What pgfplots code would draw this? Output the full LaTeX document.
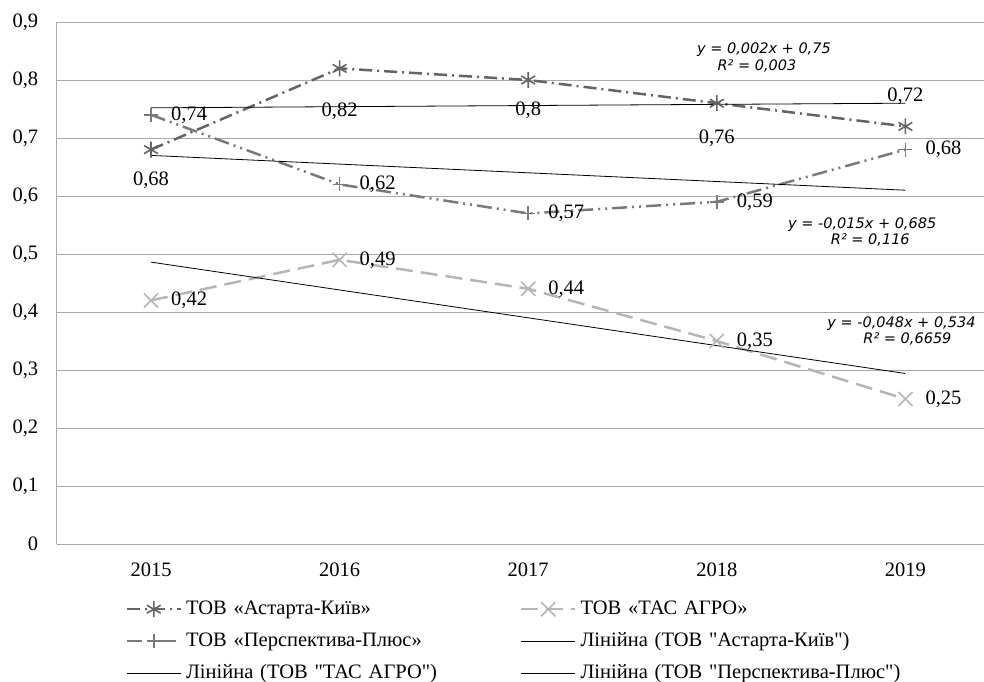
\documentclass[border=0pt]{standalone}
\usepackage{fontspec}
\setmainfont{Liberation Serif}[Ligatures=TeXOff]
\newfontfamily\eqfont{DejaVu Sans}[ItalicFont={DejaVu Sans Oblique}]
\usepackage{pgfplots}
\pgfplotsset{compat=1.18}
\definecolor{cA}{RGB}{100,100,100}
\definecolor{cP}{RGB}{122,122,122}
\definecolor{cT}{RGB}{182,182,182}
\definecolor{grd}{RGB}{170,170,170}
\newcommand{\mf}{\fontsize{20.5}{24}\selectfont}
\newcommand{\ef}{\eqfont\itshape\fontsize{14.5}{16}\selectfont}
\begin{document}
\begin{tikzpicture}
\useasboundingbox (0,0) rectangle (984pt,681pt);
\begin{axis}[
  at={(56.7pt,137pt)}, anchor=south west,
  scale only axis, width=943pt, height=522pt,
  xmin=-0.5, xmax=4.5, ymin=0, ymax=0.9,
  xtick={0,1,2,3,4}, xticklabels={2015,2016,2017,2018,2019},
  ytick={0,0.1,0.2,0.3,0.4,0.5,0.6,0.7,0.8,0.9},
  yticklabels={0,{0,1},{0,2},{0,3},{0,4},{0,5},{0,6},{0,7},{0,8},{0,9}},
  ticklabel style={font=\mf},
  yticklabel style={xshift=-15pt},
  xticklabel style={yshift=-15pt},
  major tick length=0pt,
  ymajorgrids, grid style={grd, line width=0.9pt},
  axis x line*=bottom, axis y line*=left,
  axis line style={grd, line width=0.9pt, -},
  legend columns=2, legend cell align=left,
  legend style={draw=none, fill=none, at={(0.0728,-0.1054)}, anchor=north west,
    inner sep=0pt, font=\mf, row sep=12pt,
    nodes={inner xsep=4pt, inner ysep=0pt, text height=15pt, text depth=5pt, text width=330pt},
    /tikz/every even column/.append style={column sep=0pt}},
  legend image code/.code={\draw[mark repeat=2,mark phase=2,#1] plot coordinates {(0pt,0pt) (27pt,0pt) (54pt,0pt)};},
]
% ТОВ «Астарта-Київ»
\addplot[color=cA, line width=2.5pt, dash pattern=on 13pt off 5pt on 2pt off 5pt,
  mark=asterisk, mark size=8pt, mark options={solid, line width=1.6pt},
  nodes near coords, point meta=explicit symbolic,
  visualization depends on={value \thisrow{dy} \as \dy},
  every node near coord/.append style={anchor=center, yshift=\dy*1pt, font=\mf, text=black}]
  table[x=x, y=y, meta=lab]{
x y lab dy
0 0.68 0,68 -31
1 0.82 0,82 -43
2 0.80 0,8 -30
3 0.76 0,76 -35
4 0.72 0,72 30
};
\addlegendentry{ТОВ «Астарта-Київ»}
% ТОВ «ТАС АГРО»
\addplot[color=cT, line width=2.5pt, dash pattern=on 17pt off 8pt,
  mark=x, mark size=10pt, mark options={solid, line width=1.6pt},
  nodes near coords, point meta=explicit symbolic,
  every node near coord/.append style={anchor=west, xshift=16pt, font=\mf, text=black}]
  table[x=x, y=y, meta=lab]{
x y lab
0 0.42 0,42
1 0.49 0,49
2 0.44 0,44
3 0.35 0,35
4 0.25 0,25
};
\addlegendentry{ТОВ «ТАС АГРО»}
% ТОВ «Перспектива-Плюс»
\addplot[color=cP, line width=2.5pt, dash pattern=on 15pt off 5pt on 2pt off 5pt on 2pt off 5pt,
  mark=+, mark size=7pt, mark options={solid, line width=1.6pt},
  nodes near coords, point meta=explicit symbolic,
  every node near coord/.append style={anchor=west, xshift=16pt, font=\mf, text=black}]
  table[x=x, y=y, meta=lab]{
x y lab
0 0.74 0,74
1 0.62 0,62
2 0.57 0,57
3 0.59 0,59
4 0.68 0,68
};
\addlegendentry{ТОВ «Перспектива-Плюс»}
% trend lines
\addplot[black, line width=0.8pt] coordinates {(0,0.752) (4,0.760)};
\addlegendentry{Лінійна (ТОВ "Астарта-Київ")}
\addplot[black, line width=0.8pt] coordinates {(0,0.486) (4,0.294)};
\addlegendentry{Лінійна (ТОВ "ТАС АГРО")}
\addplot[black, line width=0.8pt] coordinates {(0,0.670) (4,0.610)};
\addlegendentry{Лінійна (ТОВ "Перспектива-Плюс")}
% equations
\node[font=\ef, inner sep=0pt] at (axis cs:3.25,0.8517) {y = 0,002x + 0,75};
\node[font=\ef, inner sep=0pt] at (axis cs:3.213,0.8241) {R² = 0,003};
\node[font=\ef, inner sep=0pt] at (axis cs:3.771,0.550) {y = -0,015x + 0,685};
\node[font=\ef, inner sep=0pt] at (axis cs:3.814,0.524) {R² = 0,116};
\node[font=\ef, inner sep=0pt] at (axis cs:3.979,0.3793) {y = -0,048x + 0,534};
\node[font=\ef, inner sep=0pt] at (axis cs:4.011,0.3534) {R² = 0,6659};
\end{axis}
\end{tikzpicture}
\end{document}
